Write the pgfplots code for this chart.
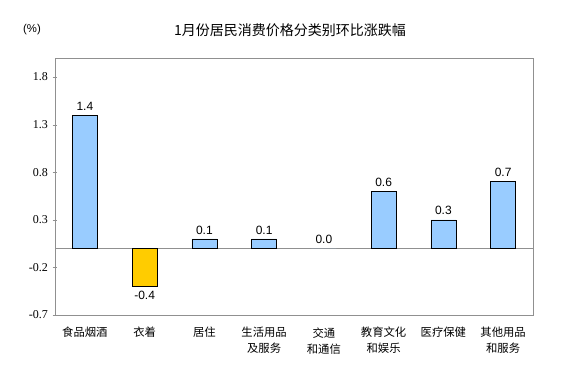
\documentclass[border=0pt]{standalone}
\usepackage{pgfplots}
\pgfplotsset{compat=1.18}
\usepackage{fontspec}
\setmainfont{Liberation Sans}
\newfontfamily\cjk{Noto Sans CJK SC}
\newfontfamily\tickfont{Liberation Serif}
\definecolor{barblue}{HTML}{99CCFF}
\definecolor{baryellow}{HTML}{FFCC00}
\definecolor{axgray}{HTML}{909090}
\begin{document}
\begin{tikzpicture}[x=1pt,y=1pt]
\useasboundingbox (0,0) rectangle (433.5,276.75);
\node[font=\cjk\fontsize{10.5}{12}\selectfont] at (217.5,254.25) {1月份居民消费价格分类别环比涨跌幅};
\node[font=\fontsize{8.5}{10}\selectfont] at (24,254.25) {(\%)};
\begin{axis}[at={(41.25pt,40.5pt)}, anchor=south west, scale only axis,
  width=358.5pt, height=192.75pt,
  xmin=-0.5, xmax=7.5, ymin=-0.7, ymax=2.0,
  axis line style={axgray},
  ytick={-0.7,-0.2,0.3,0.8,1.3,1.8},
  ytick pos=left, tick align=center, major tick length=3.5pt,
  y tick style={axgray},
  yticklabel style={font=\tickfont\fontsize{9}{10}\selectfont,
    /pgf/number format/fixed, /pgf/number format/fixed zerofill,
    /pgf/number format/precision=1, /pgf/number format/assume math mode=true},
  xtick={0,...,7},
  xticklabels={食品烟酒, 衣着, 居住, {生活用品\\及服务}, {交通\\和通信}, {教育文化\\和娱乐}, 医疗保健, {其他用品\\和服务}},
  xticklabel style={font=\cjk\fontsize{8.5}{12}\selectfont, align=center, yshift=-4pt},
  x tick style={draw=none},
  extra y ticks={0}, extra y tick labels={},
  extra y tick style={grid=major, major grid style={axgray, thin}, tick style={draw=none}},
  nodes near coords,
  nodes near coords style={font=\fontsize{9}{10}\selectfont,
    /pgf/number format/fixed, /pgf/number format/fixed zerofill,
    /pgf/number format/precision=1, /pgf/number format/assume math mode=true},
]
\addplot[ybar, bar width=18.75pt, bar shift=0pt, fill=barblue, draw=black]
  coordinates {(0,1.4)(2,0.1)(3,0.1)(5,0.6)(6,0.3)(7,0.7)};
\addplot[ybar, bar width=18.75pt, bar shift=0pt, fill=barblue, draw=none]
  coordinates {(4,0.0)};
\addplot[ybar, bar width=18.75pt, bar shift=0pt, fill=baryellow, draw=black]
  coordinates {(1,-0.4)};
\end{axis}
\end{tikzpicture}
\end{document}
